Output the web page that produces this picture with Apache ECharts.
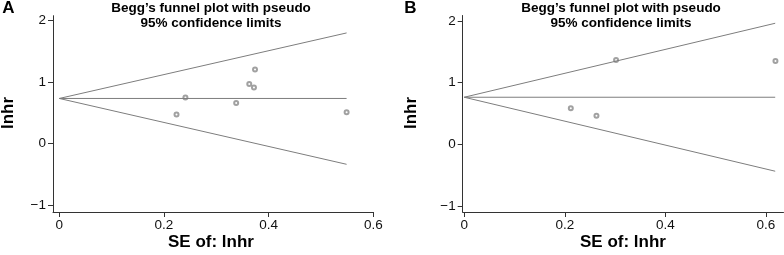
<!DOCTYPE html>
<html>
<head>
<meta charset="utf-8">
<script src="https://cdn.jsdelivr.net/npm/echarts@6/dist/echarts.min.js"></script>
<style>
  html, body { margin: 0; padding: 0; background: #fff; }
  #chart { width: 784px; height: 255px; }
</style>
</head>
<body>
<div id="chart"></div>
<script>
// panel A studies
const seA = [0.224, 0.241, 0.338, 0.363, 0.374, 0.372, 0.549]
const lnhrA = [0.476, 0.752, 0.66, 0.972, 1.205, 0.914, 0.509]
// panel B studies
const seB = [0.212, 0.263, 0.302, 0.619]
const lnhrB = [0.584, 0.464, 1.368, 1.352]

// pseudo 95% limits, read at the two ends (se = 0 and max se)
const limSeA = [0, 0.549]
const upperA = [0.735, 1.80]
const lowerA = [0.735, -0.335]
const pooledA = [0.735, 0.735]
const limSeB = [0, 0.6185]
const upperB = [0.763, 1.964]
const lowerB = [0.763, -0.438]
const pooledB = [0.763, 0.763]

const xTicks = [0, 0.2, 0.4, 0.6]
const yTicks = [-1, 0, 1, 2]

const FONT = '"Liberation Sans", Arial, Helvetica, sans-serif'
const axisColor = '#333'
const lineColor = '#7d7d7d'

const pairs = (xs, ys) => xs.map((x, i) => [x, ys[i]])
const fmt = v => (v < 0 ? '\u2212' + Math.abs(v) : String(v))

function xAxisFor (gridIndex, min, max) {
  return {
    type: 'value', gridIndex, min, max,
    axisLine: { onZero: false, lineStyle: { color: axisColor, width: 1 } },
    axisTick: { show: true, length: 5, customValues: xTicks, lineStyle: { color: axisColor } },
    axisLabel: { customValues: xTicks, formatter: fmt, margin: 6, color: '#111', fontSize: 13.5, fontFamily: FONT },
    splitLine: { show: false }
  }
}
function yAxisFor (gridIndex, min, max) {
  return {
    type: 'value', gridIndex, min, max,
    axisLine: { show: true, onZero: false, lineStyle: { color: axisColor, width: 1 } },
    axisTick: { show: true, length: 5, customValues: yTicks, lineStyle: { color: axisColor } },
    axisLabel: { customValues: yTicks, formatter: fmt, margin: 7, color: '#111', fontSize: 13.5, fontFamily: FONT },
    splitLine: { show: false }
  }
}
function lineSeries (idx, xs, ys) {
  return {
    type: 'line', xAxisIndex: idx, yAxisIndex: idx,
    data: pairs(xs, ys), symbol: 'none', silent: true,
    lineStyle: { color: lineColor, width: 1 }
  }
}
function dotSeries (idx, xs, ys) {
  return {
    type: 'scatter', xAxisIndex: idx, yAxisIndex: idx,
    data: pairs(xs, ys), symbol: 'emptyCircle', symbolSize: 4,
    itemStyle: { color: '#8a8a8a', borderColor: '#8a8a8a', borderWidth: 1 }
  }
}
function label (text, x, y, size, extra) {
  return Object.assign({
    type: 'text', x, y,
    style: { text, font: 'bold ' + size + 'px ' + FONT, fill: '#000', align: 'center', verticalAlign: 'middle', lineHeight: 15 }
  }, extra || {})
}

const chart = echarts.init(document.getElementById('chart'))
chart.setOption({
  animation: false,
  grid: [
    { left: 53, top: 15.7, width: 320.3, height: 196.3 },
    { left: 462.7, top: 15.5, width: 320.8, height: 196.5 }
  ],
  xAxis: [xAxisFor(0, -0.012, 0.6), xAxisFor(1, -0.003, 0.635)],
  yAxis: [yAxisFor(0, -1.11, 2.08), yAxisFor(1, -1.1, 2.09)],
  series: [
    lineSeries(0, limSeA, upperA),
    lineSeries(0, limSeA, lowerA),
    lineSeries(0, limSeA, pooledA),
    dotSeries(0, seA, lnhrA),
    lineSeries(1, limSeB, upperB),
    lineSeries(1, limSeB, lowerB),
    lineSeries(1, limSeB, pooledB),
    dotSeries(1, seB, lnhrB)
  ],
  graphic: [
    label('A', 8.5, 8.5, 17),
    label('B', 410.5, 8.5, 17),
    label('Begg\u2019s funnel plot with pseudo\n95% confidence limits', 211, 16, 13.5),
    label('Begg\u2019s funnel plot with pseudo\n95% confidence limits', 621, 16, 13.5),
    label('SE of: lnhr', 211, 242, 17),
    label('SE of: lnhr', 623, 242, 17),
    label('lnhr', 8.5, 113, 17, { rotation: Math.PI / 2 }),
    label('lnhr', 411.5, 113, 17, { rotation: Math.PI / 2 })
  ]
})
</script>
</body>
</html>
